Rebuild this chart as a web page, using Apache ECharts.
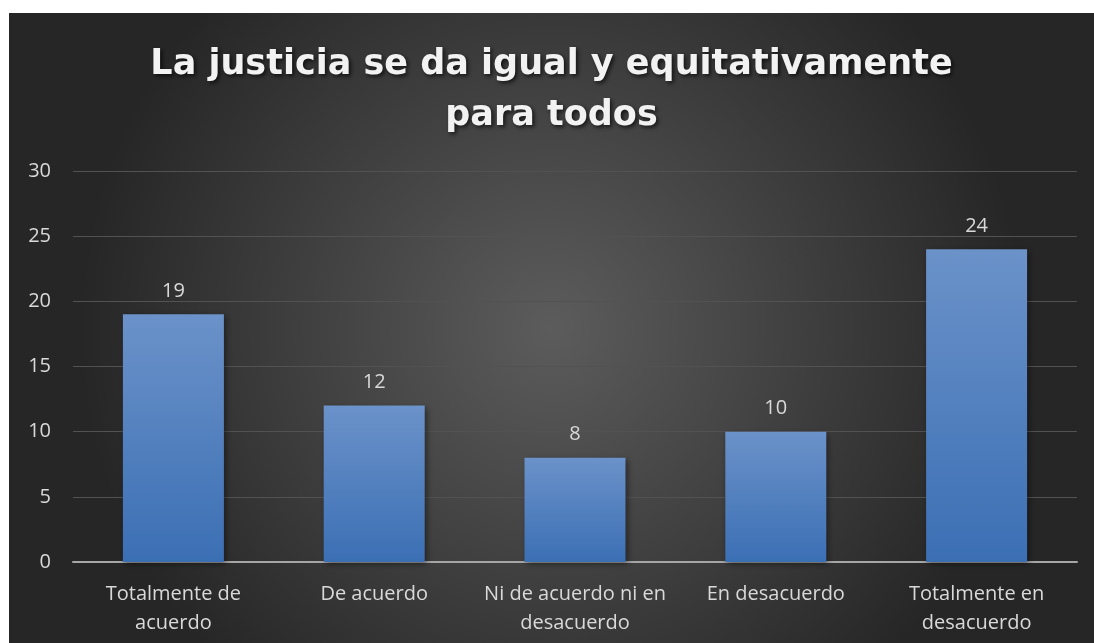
<!DOCTYPE html>
<html>
<head>
<meta charset="utf-8">
<script src="https://cdn.jsdelivr.net/npm/echarts@6/dist/echarts.min.js"></script>
<style>
  html, body { margin: 0; padding: 0; background: #ffffff; }
  #chart { position: absolute; left: 9px; top: 13px; width: 1085px; height: 630px; }
</style>
</head>
<body>
<div id="chart"></div>
<script>
const categories = [
  "Totalmente de\nacuerdo",
  "De acuerdo",
  "Ni de acuerdo ni en\ndesacuerdo",
  "En desacuerdo",
  "Totalmente en\ndesacuerdo",
];
const values = [19, 12, 8, 10, 24];
const titleText = "La justicia se da igual y equitativamente\npara todos";

const chart = echarts.init(document.getElementById("chart"));

const labelFont = "Open Sans";

const option = {
  backgroundColor: {
    type: "radial",
    x: 0.5,
    y: 0.5,
    r: 0.75,
    colorStops: [
      { offset: 0, color: "#5c5c5c" },
      { offset: 1, color: "#262626" },
    ],
  },
  title: {
    text: titleText,
    left: "center",
    top: 21,
    textStyle: {
      fontFamily: "DejaVu Sans",
      fontWeight: "bold",
      fontSize: 35,
      lineHeight: 51,
      color: "#f2f2f2",
      textShadowColor: "rgba(0,0,0,0.7)",
      textShadowBlur: 4,
      textShadowOffsetX: 2,
      textShadowOffsetY: 2,
    },
  },
  grid: {
    left: 64,
    right: 17,
    top: 158,
    bottom: 81,
  },
  xAxis: {
    type: "category",
    data: categories,
    axisLine: { lineStyle: { color: "#a6a6a6", width: 2 } },
    axisTick: { show: false },
    axisLabel: {
      interval: 0,
      margin: 18,
      fontFamily: labelFont,
      fontSize: 20,
      lineHeight: 29,
      color: "#d9d9d9",
    },
  },
  yAxis: {
    type: "value",
    min: 0,
    max: 30,
    interval: 5,
    axisLine: { show: false },
    axisTick: { show: false },
    axisLabel: {
      margin: 22,
      fontFamily: labelFont,
      fontSize: 20,
      color: "#d9d9d9",
    },
    splitLine: { lineStyle: { color: "#525252", width: 1 } },
  },
  series: [
    {
      type: "bar",
      data: values,
      barWidth: 101,
      itemStyle: {
        color: {
          type: "linear",
          x: 0, y: 0, x2: 0, y2: 1,
          colorStops: [
            { offset: 0, color: "#6b92c9" },
            { offset: 1, color: "#3b6fb4" },
          ],
        },
        shadowColor: "rgba(0,0,0,0.45)",
        shadowBlur: 6,
        shadowOffsetX: 2,
        shadowOffsetY: 2,
      },
      label: {
        show: true,
        position: "top",
        distance: 13,
        fontFamily: labelFont,
        fontSize: 20,
        color: "#d9d9d9",
      },
    },
  ],
};

chart.setOption(option);
</script>
</body>
</html>
